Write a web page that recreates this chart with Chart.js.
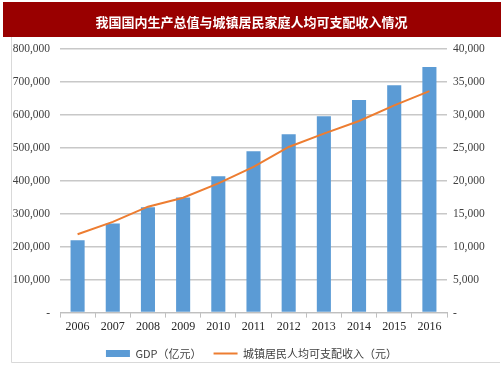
<!DOCTYPE html>
<html><head><meta charset="utf-8">
<script src="https://cdn.jsdelivr.net/npm/chart.js@4.4.1/dist/chart.umd.min.js"></script>
<style>html,body{margin:0;padding:0;background:#fff;}#wrap{width:503px;height:378px;position:relative;}</style>
</head><body><div id="wrap"><canvas id="c" width="503" height="378"></canvas></div>
<script>
const titleText = '我国国内生产总值与城镇居民家庭人均可支配收入情况';
const years = ['2006','2007','2008','2009','2010','2011','2012','2013','2014','2015','2016'];
const gdp = [219439, 270232, 319516, 349081, 413030, 489301, 540367, 595244, 643974, 689052, 744127];
const income = [11880, 13740, 16050, 17400, 19570, 22080, 25100, 27120, 29030, 31400, 33560];
const gdpLabel = 'GDP（亿元）';
const incomeLabel = '城镇居民人均可支配收入（元）';
const leftMax = 800000, leftStep = 100000;
const rightMax = 40000, rightStep = 5000;

const fmt = v => v === 0 ? '-' : v.toLocaleString('en-US');

const framePlugin = {
  id: 'frame',
  beforeDraw(chart) {
    const ctx = chart.ctx;
    ctx.save();
    ctx.fillStyle = '#fff';
    ctx.fillRect(0, 0, chart.width, chart.height);
    ctx.strokeStyle = '#d9d9d9';
    ctx.lineWidth = 1;
    ctx.beginPath();
    ctx.moveTo(11.5, 37); ctx.lineTo(11.5, 362.5); ctx.lineTo(500, 362.5);
    ctx.stroke();
    ctx.fillStyle = '#990000';
    ctx.fillRect(3, 2, 498, 35);
    ctx.restore();
  }
};

new Chart(document.getElementById('c'), {
  data: {
    labels: years,
    datasets: [
      { type: 'line', label: incomeLabel, data: income, yAxisID: 'y2', borderColor: '#ed7d31', backgroundColor: '#ed7d31', borderWidth: 2, pointRadius: 0, tension: 0, pointStyle: 'line', order: 0 },
      { type: 'bar', label: gdpLabel, data: gdp, yAxisID: 'y', backgroundColor: '#5b9bd5', borderWidth: 0, barPercentage: 0.4, categoryPercentage: 1, pointStyle: 'rect', order: 1 }
    ]
  },
  options: {
    responsive: false,
    animation: false,
    layout: { padding: { left: 0, right: 0, top: 4, bottom: 9 } },
    plugins: {
      title: { display: true, text: titleText, color: '#ffffff', font: { family: "'Noto Sans CJK SC'", size: 13, weight: 'bold' }, padding: { top: 10, bottom: 19 } },
      legend: {
        position: 'bottom',
        reverse: true,
        labels: {
          usePointStyle: true, pointStyleWidth: 24, boxHeight: 7, padding: 12,
          color: '#404040', font: { family: "'Noto Sans CJK SC'", size: 11 }
        }
      },
      tooltip: { enabled: false }
    },
    scales: {
      x: {
        offset: true,
        grid: { display: true, drawOnChartArea: false, drawTicks: true, tickLength: 5, offset: true, color: '#bfbfbf' },
        border: { display: true, color: '#bfbfbf', width: 1 },
        ticks: { color: '#262626', font: { family: "'Liberation Serif'", size: 12 }, padding: 2, maxRotation: 0 }
      },
      y: {
        position: 'left', min: 0, max: leftMax,
        afterFit(s) { s.width = 60; },
        grid: { color: '#c8c8c8', lineWidth: 1.5, drawTicks: false },
        border: { display: false },
        ticks: { stepSize: leftStep, callback: fmt, color: '#404040', font: { family: "'Liberation Serif'", size: 11.5 }, padding: 10 }
      },
      y2: {
        position: 'right', min: 0, max: rightMax,
        afterFit(s) { s.width = 56; },
        grid: { display: false, drawTicks: false },
        border: { display: false },
        ticks: { stepSize: rightStep, callback: fmt, color: '#404040', font: { family: "'Liberation Serif'", size: 11.5 }, padding: 6 }
      }
    }
  },
  plugins: [framePlugin]
});
</script></body></html>
